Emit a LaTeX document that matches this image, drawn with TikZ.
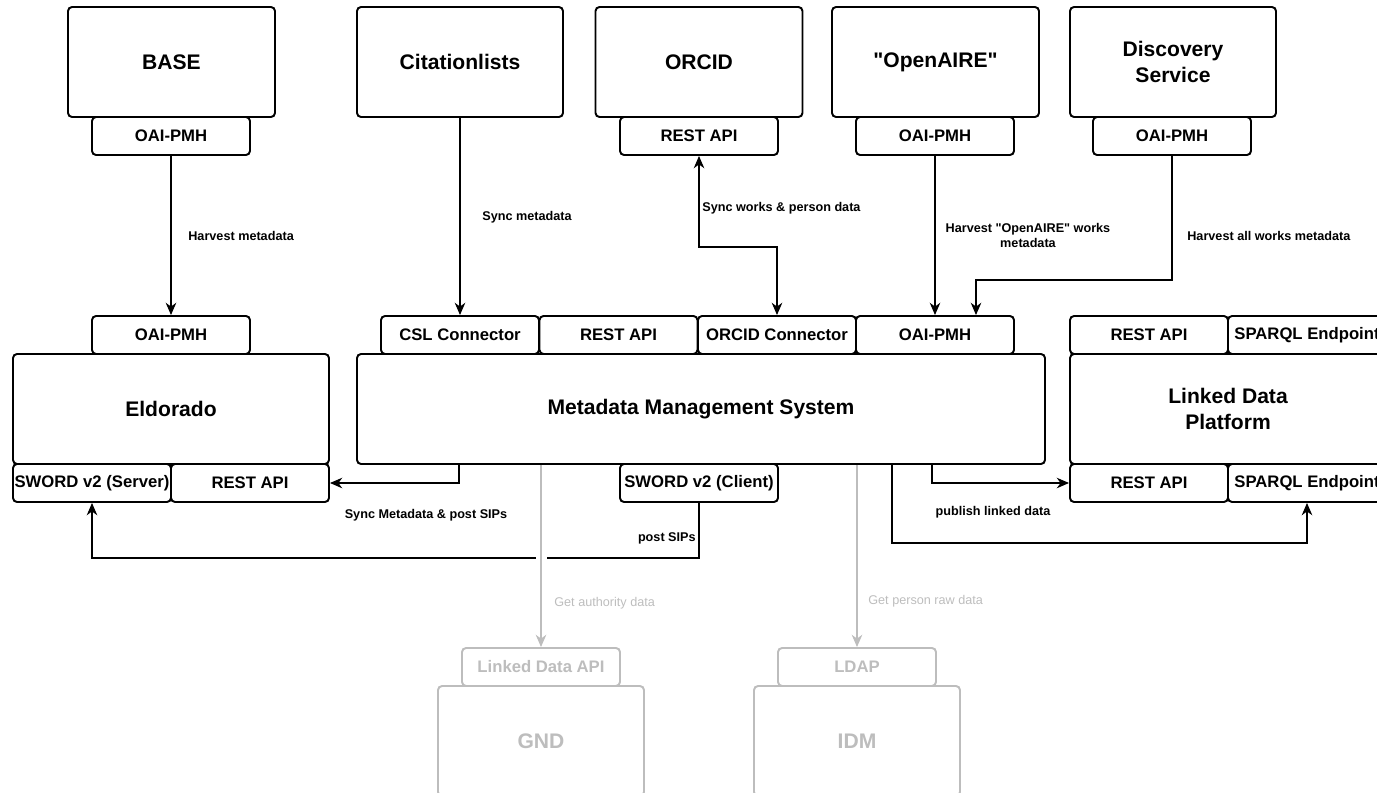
\documentclass[tikz,border=0pt]{standalone}
\usepackage{fontspec}
\setmainfont{Liberation Sans}[Ligatures=TeXOff]
\usepackage{tikz}
\usetikzlibrary{arrows.meta}

\definecolor{fadegray}{HTML}{BDBDBD}

\tikzset{
  sys/.style 2 args={draw,line width=1.1pt,rounded corners=2.3pt,fill=white,
    minimum width=#1*0.02cm,minimum height=#2*0.02cm,inner sep=0pt,align=center,
    font=\bfseries\fontsize{12}{14.8}\selectfont},
  port/.style={draw,line width=1.1pt,rounded corners=2.3pt,fill=white,
    minimum width=158*0.02cm,minimum height=38*0.02cm,inner sep=0pt,
    font=\bfseries\fontsize{9.5}{11}\selectfont},
  flow/.style={-{Stealth[length=7pt,width=6pt,inset=2.2pt]},line width=0.7pt},
  flowboth/.style={{Stealth[length=7pt,width=6pt,inset=2.2pt]}-{Stealth[length=7pt,width=6pt,inset=2.2pt]},line width=0.7pt},
  lbl/.style={inner sep=0pt,align=center,font=\bfseries\fontsize{7.2}{8.6}\selectfont},
  faded/.style={draw=fadegray,text=fadegray}
}

\begin{document}
\begin{tikzpicture}[x=0.02cm,y=-0.02cm]
\useasboundingbox (0,0) rectangle (1377,792);
\clip (0,0) rectangle (1377,792);

% top row: external sources
\node[sys={207}{110}] (base) at (171.5,62) {BASE};
\node[port] (baseoai) at (171,136) {OAI-PMH};
\node[sys={206}{110}] (cite) at (460,62) {Citationlists};
\node[sys={207}{110}] (orcid) at (699,62) {ORCID};
\node[port] (orcapi) at (699,136) {REST API};
\node[sys={207}{110}] (oaire) at (935.5,62) {"OpenAIRE"};
\node[port] (oaireoai) at (935,136) {OAI-PMH};
\node[sys={206}{110}] (disc) at (1173,62) {Discovery\\Service};
\node[port] (discoai) at (1172,136) {OAI-PMH};

% Eldorado
\node[sys={316}{110}] (eldo) at (171,409) {Eldorado};
\node[port] (eldooai) at (171,335) {OAI-PMH};
\node[port] (swsrv) at (92,483) {SWORD v2 (Server)};
\node[port] (eldorest) at (250,483) {REST API};

% Metadata Management System
\node[sys={688}{110}] (mms) at (701,409) {Metadata Management System};
\node[port] (csl) at (460,335) {CSL Connector};
\node[port] (mmsrest) at (618.5,335) {REST API};
\node[port] (orccon) at (777,335) {ORCID Connector};
\node[port] (mmsoai) at (935,335) {OAI-PMH};
\node[port] (swcl) at (699,483) {SWORD v2 (Client)};

% Linked Data Platform
\node[sys={316}{110}] (ldp) at (1228,409) {Linked Data\\Platform};
\node[port] (ldrest1) at (1149,335) {REST API};
\node[port] (ldsparql1) at (1307,335) {SPARQL Endpoint};
\node[port] (ldrest2) at (1149,483) {REST API};
\node[port] (ldsparql2) at (1307,483) {SPARQL Endpoint};

% GND and IDM (faded)
\node[sys={206}{110},faded] (gnd) at (541,741) {GND};
\node[port,faded] (ldapi) at (541,667) {Linked Data API};
\node[sys={206}{110},faded] (idm) at (857,741) {IDM};
\node[port,faded] (ldap) at (857,667) {LDAP};

% harvesting and sync into the middle row
\draw[flow] (baseoai.south) -- (eldooai.north);
\node[lbl,anchor=west] (l1) at (188,236) {Harvest metadata};
\draw[flow] (cite.south) -- (csl.north);
\node[lbl,anchor=west] (l2) at (482,217) {Sync metadata};
\draw[flowboth] (orcapi.south) -- (orcapi.south |- 0,247) -| (orccon.north);
\node[lbl,anchor=west] (l3) at (702,208) {Sync works \& person data};
\draw[flow] (oaireoai.south) -- (mmsoai.north);
\node[lbl] (l4) at (1028,235.5) {Harvest "OpenAIRE" works\\metadata};
\draw[flow] (discoai.south) |- (976,280) -- (mmsoai.north -| 976,0);
\node[lbl,anchor=west] (l5) at (1187,236) {Harvest all works metadata};

% outgoing from the MMS
\draw[flow] (mms.south -| 459,0) |- (eldorest.east);
\node[lbl] (l6) at (426,515) {Sync Metadata \& post SIPs};
\draw[flow] (swcl.south) -- (swcl.south |- 0,558) -| (swsrv.south);
\node[lbl,anchor=east] (l7) at (696,538) {post SIPs};
\draw[flow] (mms.south -| 932,0) |- (ldrest2.west);
\node[lbl] (l8) at (993,512) {publish linked data};
\draw[flow] (mms.south -| 892,0) -- (892,543) -| (ldsparql2.south);

% faded lookups
\fill[white] (536,553) rectangle (547,563);
\draw[flow,fadegray] (mms.south -| ldapi.north) -- (ldapi.north);
\node[lbl,anchor=west,text=fadegray,font=\fontsize{7.2}{8.6}\selectfont] (l9) at (554,603) {Get authority data};
\draw[flow,fadegray] (mms.south -| ldap.north) -- (ldap.north);
\node[lbl,anchor=west,text=fadegray,font=\fontsize{7.2}{8.6}\selectfont] (l10) at (868,601) {Get person raw data};
\end{tikzpicture}
\end{document}
